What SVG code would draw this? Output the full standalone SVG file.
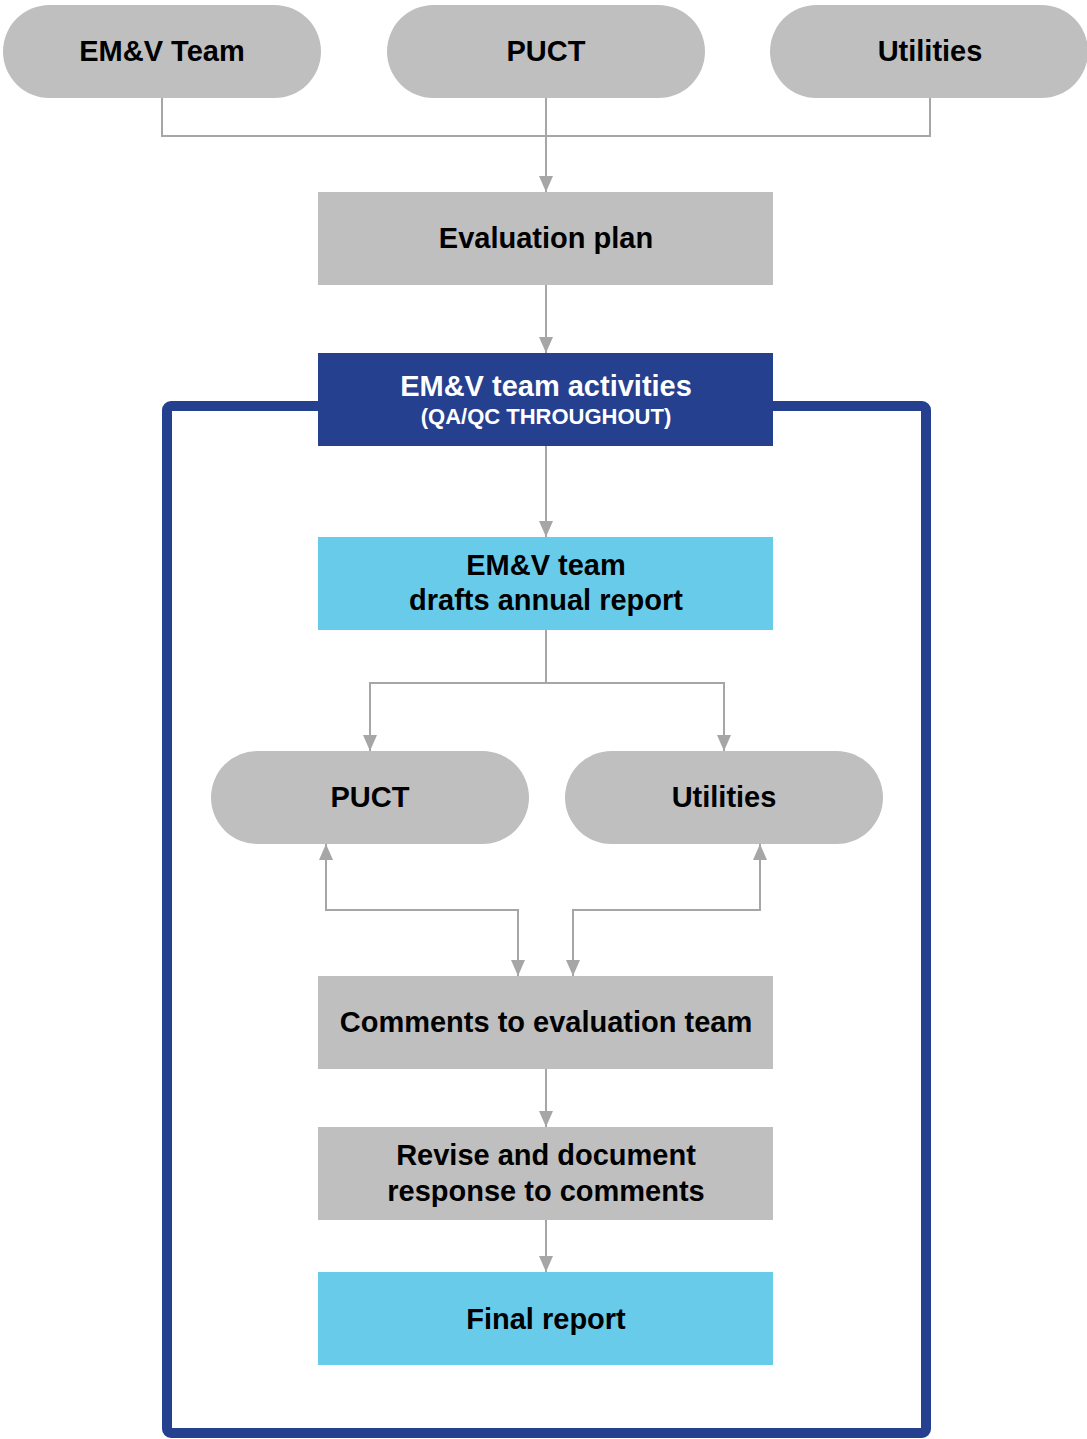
<svg xmlns="http://www.w3.org/2000/svg" width="1087" height="1439" viewBox="0 0 1087 1439">
<style>
.pill{fill:#BFBFBF}
.grey{fill:#BFBFBF}
.lb{fill:#69CBEA}
.db{fill:#25408F}
.t{font-family:"Liberation Sans",Arial,sans-serif;font-weight:bold;font-size:29px;fill:#000;text-anchor:middle}
.w{fill:#fff}
.s{font-size:22px}
.c{fill:none;stroke:#A6A6A6;stroke-width:2}
</style>
<defs>
<marker id="ah" markerUnits="userSpaceOnUse" markerWidth="16" markerHeight="14" refX="16" refY="7" orient="auto">
<path d="M0,0 L16,7 L0,14 z" fill="#A6A6A6"/>
</marker>
</defs>
<rect width="1087" height="1439" fill="#fff"/>
<g id="frame">
<rect x="167" y="406" width="759" height="1027" rx="4" fill="none" stroke="#25408F" stroke-width="10"/>
</g>
<g id="connectors">
<polyline class="c" points="162,98 162,136 930,136 930,98"/>
<line class="c" x1="546" y1="98" x2="546" y2="192" marker-end="url(#ah)"/>
<line class="c" x1="546" y1="285" x2="546" y2="353" marker-end="url(#ah)"/>
<line class="c" x1="546" y1="446" x2="546" y2="537" marker-end="url(#ah)"/>
<polyline class="c" points="546,630 546,683 370,683 370,751" marker-end="url(#ah)"/>
<polyline class="c" points="546,683 724,683 724,751" marker-end="url(#ah)"/>
<polyline class="c" points="518,910 326,910 326,844" marker-end="url(#ah)"/>
<polyline class="c" points="326,910 518,910 518,976" marker-end="url(#ah)"/>
<polyline class="c" points="573,910 760,910 760,844" marker-end="url(#ah)"/>
<polyline class="c" points="760,910 573,910 573,976" marker-end="url(#ah)"/>
<line class="c" x1="546" y1="1069" x2="546" y2="1127" marker-end="url(#ah)"/>
<line class="c" x1="546" y1="1220" x2="546" y2="1272" marker-end="url(#ah)"/>
</g>
<g id="emv-team"><rect class="pill" x="3" y="5" width="318" height="93" rx="46.5"/><text class="t" x="162" y="61">EM&amp;V Team</text></g>
<g id="puct-top"><rect class="pill" x="387" y="5" width="318" height="93" rx="46.5"/><text class="t" x="546" y="61">PUCT</text></g>
<g id="utilities-top"><rect class="pill" x="770" y="5" width="318" height="93" rx="46.5"/><text class="t" x="930" y="61">Utilities</text></g>
<g id="evaluation-plan"><rect class="grey" x="318" y="192" width="455" height="93"/><text class="t" x="546" y="248">Evaluation plan</text></g>
<g id="emv-activities"><rect class="db" x="318" y="353" width="455" height="93"/><text class="t w" x="546" y="396">EM&amp;V team activities</text><text class="t w s" x="546" y="424">(QA/QC THROUGHOUT)</text></g>
<g id="drafts"><rect class="lb" x="318" y="537" width="455" height="93"/><text class="t" x="546" y="575">EM&amp;V team</text><text class="t" x="546" y="610">drafts annual report</text></g>
<g id="puct"><rect class="pill" x="211" y="751" width="318" height="93" rx="46.5"/><text class="t" x="370" y="807">PUCT</text></g>
<g id="utilities"><rect class="pill" x="565" y="751" width="318" height="93" rx="46.5"/><text class="t" x="724" y="807">Utilities</text></g>
<g id="comments"><rect class="grey" x="318" y="976" width="455" height="93"/><text class="t" x="546" y="1032">Comments to evaluation team</text></g>
<g id="revise"><rect class="grey" x="318" y="1127" width="455" height="93"/><text class="t" x="546" y="1165">Revise and document</text><text class="t" x="546" y="1201">response to comments</text></g>
<g id="final"><rect class="lb" x="318" y="1272" width="455" height="93"/><text class="t" x="546" y="1329">Final report</text></g>
</svg>
